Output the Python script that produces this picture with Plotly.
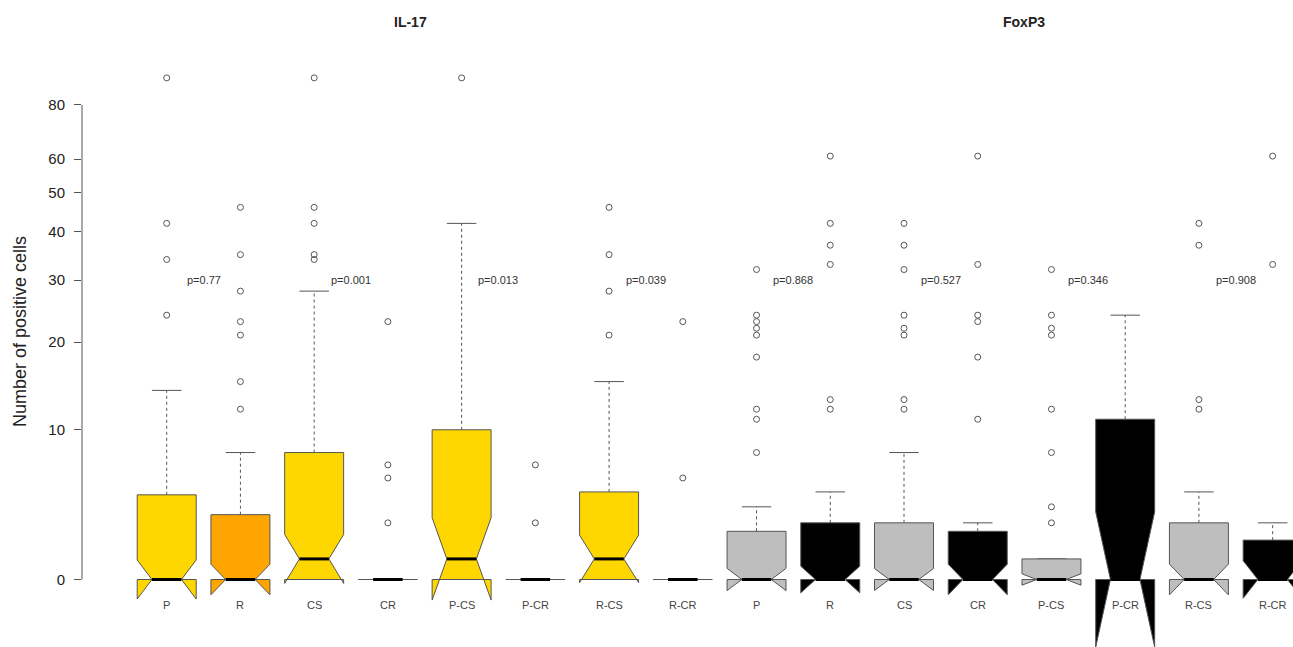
import math
import plotly.graph_objects as go

# ---------------- data ----------------
labels = ["P", "R", "CS", "CR", "P-CS", "P-CR", "R-CS", "R-CR"]
group_n = [47, 45, 67, 25, 33, 14, 34, 11]

il17_q1 = [0, 0, 0, 0, 0, 0, 0, 0]
il17_med = [0, 0, 1, 0, 1, 0, 1, 0]
il17_q3 = [4.8, 3.5, 8, 0, 10, 0, 5, 0]
il17_lo = [0, 0, 0, 0, 0, 0, 0, 0]
il17_hi = [14, 8, 28, 0, 42, 0, 15, 0]
il17_out = [
    [24, 34, 42, 92],
    [12, 15, 21, 23, 28, 35, 46],
    [34, 35, 42, 46, 92],
    [3, 6, 7, 23],
    [92],
    [3, 7],
    [21, 28, 35, 46],
    [6, 23],
]

foxp3_q1 = [0, 0, 0, 0, 0, 0, 0, 0]
foxp3_med = [0, 0, 0, 0, 0, 0, 0, 0]
foxp3_q3 = [2.5, 3, 3, 2.5, 1, 11, 3, 2]
foxp3_lo = [0, 0, 0, 0, 0, 0, 0, 0]
foxp3_hi = [4, 5, 8, 3, 1, 24, 5, 3]
foxp3_out = [
    [8, 11, 12, 18, 21, 22, 23, 24, 32],
    [12, 13, 33, 37, 42, 61],
    [12, 13, 21, 22, 24, 32, 37, 42],
    [11, 18, 23, 24, 33, 61],
    [3, 4, 8, 12, 21, 22, 24, 32],
    [],
    [12, 13, 37, 42],
    [33, 61],
]

il17_colors = ["#FFD700", "#FFA500"] * 4
foxp3_colors = ["#BEBEBE", "#000000"] * 4

p_values = ["p=0.77", "p=0.001", "p=0.013", "p=0.039",
            "p=0.868", "p=0.527", "p=0.346", "p=0.908"]
p_value_level = 30
panel_titles = ["IL-17", "FoxP3"]
y_ticks = [0, 10, 20, 30, 40, 50, 60, 80]


def T(v):
    """Axis transform used by the original figure: log(x + 10)."""
    return math.log(v + 10)


# ---------------- figure ----------------
fig = go.Figure()
BORDER = "#555555"
HW = 0.4        # half box width
NOTCH_N = 0.5   # notch waist relative to half width
STAPLE = 0.5

panels = [
    (il17_q1, il17_med, il17_q3, il17_lo, il17_hi, il17_out, il17_colors),
    (foxp3_q1, foxp3_med, foxp3_q3, foxp3_lo, foxp3_hi, foxp3_out, foxp3_colors),
]

all_labels = []
out_x, out_y = [], []
pos = 0
for (q1s, meds, q3s, los, his, outs, cols) in panels:
    for k in range(len(labels)):
        pos += 1
        x = pos
        all_labels.append((x, labels[k]))
        q1, med, q3 = T(q1s[k]), T(meds[k]), T(q3s[k])
        lo, hi = T(los[k]), T(his[k])
        notch = 1.58 * (q3 - q1) / math.sqrt(group_n[k])
        # whiskers (dashed) and staples
        fig.add_trace(go.Scatter(
            x=[x, x, None, x, x], y=[q3, hi, None, q1, lo], mode="lines",
            line=dict(color=BORDER, width=1, dash="3px,3px"),
            hoverinfo="skip", showlegend=False))
        fig.add_trace(go.Scatter(
            x=[x - HW * STAPLE, x + HW * STAPLE, None, x - HW * STAPLE, x + HW * STAPLE],
            y=[hi, hi, None, lo, lo], mode="lines",
            line=dict(color=BORDER, width=1),
            hoverinfo="skip", showlegend=False))
        # notched box polygon (same vertex order as R's bxp)
        px = [x - HW, x + HW, x + HW, x + HW * NOTCH_N, x + HW, x + HW,
              x - HW, x - HW, x - HW * NOTCH_N, x - HW, x - HW]
        py = [q1, q1, med - notch, med, med + notch, q3,
              q3, med + notch, med, med - notch, q1]
        fig.add_trace(go.Scatter(
            x=px, y=py, mode="lines", fill="toself", fillcolor=cols[k],
            line=dict(color=BORDER, width=1),
            hoverinfo="skip", showlegend=False))
        # median
        fig.add_trace(go.Scatter(
            x=[x - HW * NOTCH_N, x + HW * NOTCH_N], y=[med, med], mode="lines",
            line=dict(color="#000000", width=3),
            hoverinfo="skip", showlegend=False))
        for v in outs[k]:
            out_x.append(x)
            out_y.append(T(v))

fig.add_trace(go.Scatter(
    x=out_x, y=out_y, mode="markers",
    marker=dict(symbol="circle-open", size=6, color="#555555", line=dict(width=1)),
    hoverinfo="skip", showlegend=False))

FONT = "Arial, Liberation Sans, sans-serif"
annotations = []
for (x, lab) in all_labels:
    annotations.append(dict(x=x, y=0.0692, xref="x", yref="paper", text=lab,
                            showarrow=False, xanchor="center", yanchor="middle",
                            font=dict(family=FONT, size=11, color="#444444")))
for j, ptxt in enumerate(p_values):
    annotations.append(dict(x=1.5 + 2 * j, y=T(p_value_level), xref="x", yref="y",
                            text=ptxt, showarrow=False, xanchor="center",
                            yanchor="middle",
                            font=dict(family=FONT, size=11, color="#333333")))
for j, (tt, tx) in enumerate(zip(panel_titles, [4.3, 12.63])):
    annotations.append(dict(x=tx, y=1.0297, xref="x", yref="paper",
                            text="<b>%s</b>" % tt, showarrow=False,
                            xanchor="center", yanchor="middle",
                            font=dict(family=FONT, size=14, color="#222222")))
annotations.append(dict(x=-0.0512, y=0.5206, xref="paper", yref="paper",
                        text="Number of positive cells", textangle=-90,
                        showarrow=False, xanchor="center", yanchor="middle",
                        font=dict(family=FONT, size=18, color="#222222")))

fig.add_shape(type="line", xref="paper", yref="y", x0=0, x1=0,
              y0=T(y_ticks[0]), y1=T(y_ticks[-1]),
              line=dict(color=BORDER, width=1))

fig.update_layout(
    width=1293, height=647,
    margin=dict(l=82, r=0, t=40, b=0),
    paper_bgcolor="white", plot_bgcolor="white",
    annotations=annotations,
    xaxis=dict(range=[-0.1488, 16.276], visible=False, showgrid=False,
               zeroline=False, fixedrange=True, automargin=False),
    yaxis=dict(range=[1.990085, 4.80028], showgrid=False, zeroline=False,
               showline=False, ticks="outside", ticklen=7, tickcolor=BORDER,
               tickvals=[T(v) for v in y_ticks],
               ticktext=[str(v) for v in y_ticks],
               ticklabelstandoff=6, automargin=False, fixedrange=True,
               tickfont=dict(family=FONT, size=15, color="#222222")),
)

fig.write_html("out.html",
               config={"displayModeBar": False, "staticPlot": True},
               post_script="document.body.style.margin='0';document.body.style.overflow='hidden';")
